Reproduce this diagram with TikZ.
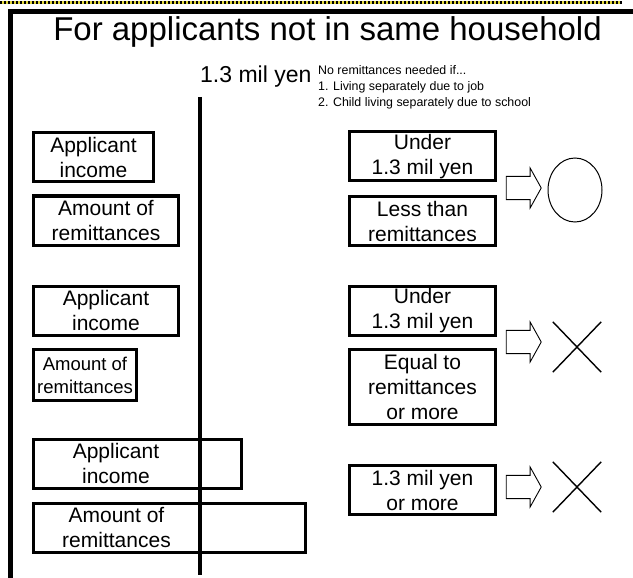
\documentclass[tikz,border=0pt]{standalone}
\usepackage{fontspec}
\setmainfont{Liberation Sans}
\usetikzlibrary{shapes.geometric,shapes.arrows,shapes.misc}

\definecolor{dotyellow}{RGB}{225,215,60}

\begin{document}
\begin{tikzpicture}[x=1pt,y=-1pt,
  condbox/.style={draw,line width=3pt,align=center,inner sep=0pt,minimum height=49pt,font=\fontsize{21}{25}\selectfont},
  boxtext/.style={align=center,inner sep=0pt,font=\fontsize{21}{25}\selectfont},
  blockarrow/.style={draw,single arrow,line width=0.9pt,minimum height=35pt,minimum width=40pt,single arrow tip angle=122,inner sep=0pt},
  okmark/.style={draw,ellipse,line width=1pt,minimum width=54pt,minimum height=64pt,inner sep=0pt},
  ngmark/.style={draw,cross out,line width=1.4pt,minimum width=47pt,minimum height=49pt,inner sep=0pt}]
\useasboundingbox (0,0) rectangle (633,578);
% frame
\draw[dotyellow,line width=3pt] (0,2.5)--(622,2.5);
\draw[line width=3pt,dash pattern=on 2pt off 2pt] (0,2.5)--(622,2.5);
\draw[line width=4.5pt] (10.5,578)--(10.5,11.5)--(633,11.5);
\node[anchor=base,inner sep=0pt,font=\fontsize{33}{38}\selectfont] (title) at (327.5,41) {For applicants not in same household};
% threshold axis
\coordinate (ax_top) at (200,97);
\coordinate (ax_bot) at (200,575);
\draw[line width=4pt] (ax_top)--(ax_bot);
\node[anchor=base west,inner sep=0pt,font=\fontsize{23}{27}\selectfont] (limit) at (200,83) {1.3 mil yen};
\node[anchor=north west,inner sep=0pt,align=left,font=\fontsize{12.4}{16}\selectfont] (notes) at (318,65) {No remittances needed if...\\1. Living separately due to job\\2. Child living separately due to school};
% case 1
\node[condbox,minimum width=120pt] (inc_a) at (93.5,157) {Applicant\\income};
\node[condbox,minimum width=145pt] (rem_a) at (106,220.5) {Amount of\\remittances};
\node[condbox,minimum width=146pt] (cond_a1) at (422.5,156.5) {Under\\1.3 mil yen};
\node[condbox,minimum width=146pt] (cond_a2) at (422.5,221) {Less than\\remittances};
\node[blockarrow] (arr_a) at (520.5,188) {\rule{0pt}{19pt}};
\node[okmark] (res_a) at (575,190) {};
% case 2
\node[condbox,minimum width=145pt] (inc_b) at (106,310.5) {Applicant\\income};
\node[condbox,minimum width=103pt,minimum height=51pt,font=\fontsize{18.5}{23}\selectfont] (rem_b) at (85,375) {Amount of\\remittances};
\node[condbox,minimum width=146pt] (cond_b1) at (422.5,310.5) {Under\\1.3 mil yen};
\node[condbox,minimum width=146pt,minimum height=75pt] (cond_b2) at (422.5,387) {Equal to\\remittances\\or more};
\node[blockarrow] (arr_b) at (520.5,342) {\rule{0pt}{19pt}};
\node[ngmark] (res_b) at (577,347) {};
% case 3 (boxes run past the axis, text stays left)
\node[condbox,minimum width=208pt] (inc_c) at (137.5,463.5) {};
\node[boxtext] (inc_c_txt) at (116,463.5) {Applicant\\income};
\node[condbox,minimum width=272pt] (rem_c) at (169.5,528) {};
\node[boxtext] (rem_c_txt) at (116.5,528) {Amount of\\remittances};
\node[condbox,minimum width=146pt] (cond_c1) at (422.5,490) {1.3 mil yen\\or more};
\node[blockarrow] (arr_c) at (520.5,487) {\rule{0pt}{19pt}};
\node[ngmark] (res_c) at (577,487) {};
\end{tikzpicture}
\end{document}
